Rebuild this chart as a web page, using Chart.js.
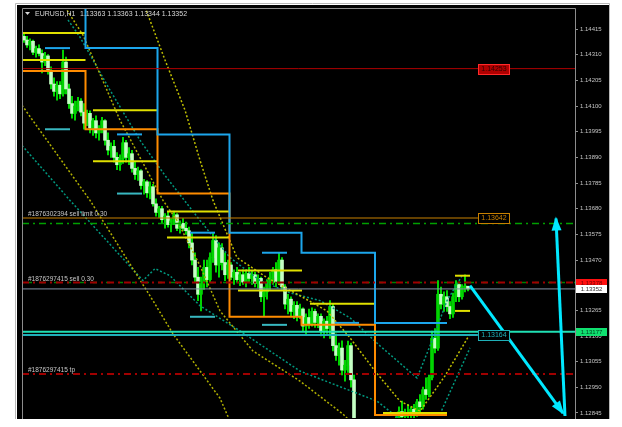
<!DOCTYPE html>
<html>
<head>
<meta charset="utf-8">
<title>EURUSD,H1</title>
<script src="https://cdn.jsdelivr.net/npm/chart.js@4.4.1/dist/chart.umd.min.js"></script>
<style>
  html, body { margin: 0; padding: 0; background: #ffffff; }
  canvas { display: block; }
</style>
</head>
<body>
<canvas id="chart" width="622" height="427"></canvas>
<script>
// EURUSD H1 bars, oldest first (bar index = hour)
const opens = [
  1.14385,1.14370,1.14350,1.14365,1.14320,1.14335,1.14315,1.14280,1.14305,1.14245,
  1.14190,1.14160,1.14185,1.14150,1.14280,1.14170,1.14110,1.14070,1.14100,1.14120,
  1.14075,1.14030,1.14070,1.14010,1.14040,1.13990,1.14005,1.14040,1.13960,1.13920,
  1.13935,1.13890,1.13860,1.13885,1.13950,1.13890,1.13905,1.13845,1.13820,1.13835,
  1.13775,1.13790,1.13745,1.13770,1.13700,1.13665,1.13680,1.13635,1.13650,1.13615,
  1.13630,1.13655,1.13600,1.13620,1.13600,1.13590,1.13540,1.13470,1.13400,1.13330,
  1.13380,1.13440,1.13390,1.13480,1.13550,1.13450,1.13520,1.13460,1.13410,1.13450,
  1.13400,1.13420,1.13390,1.13410,1.13380,1.13415,1.13395,1.13410,1.13375,1.13395,
  1.13320,1.13340,1.13380,1.13400,1.13430,1.13380,1.13470,1.13360,1.13290,1.13310,
  1.13260,1.13285,1.13240,1.13270,1.13200,1.13235,1.13210,1.13260,1.13215,1.13240,
  1.13180,1.13220,1.13190,1.13280,1.13120,1.13080,1.13110,1.13020,1.13040,1.13120,
  1.12980,1.12800,1.12740,1.12760,1.12730,1.12700,1.12740,1.12720,1.12690,1.12710,
  1.12740,1.12770,1.12750,1.12790,1.12780,1.12810,1.12850,1.12830,1.12845,1.12835,
  1.12860,1.12840,1.12890,1.12870,1.12940,1.12920,1.12990,1.13150,1.13110,1.13330,
  1.13290,1.13320,1.13280,1.13250,1.13320,1.13370,1.13320,1.13360,1.13363
];
const highs = [
  1.14400,1.14385,1.14375,1.14370,1.14345,1.14350,1.14330,1.14320,1.14310,1.14260,
  1.14215,1.14200,1.14200,1.14329,1.14300,1.14190,1.14140,1.14120,1.14136,1.14130,
  1.14110,1.14083,1.14080,1.14050,1.14060,1.14020,1.14054,1.14045,1.13990,1.13950,
  1.13960,1.13910,1.13900,1.13972,1.13960,1.13930,1.13919,1.13870,1.13850,1.13840,
  1.13800,1.13795,1.13790,1.13780,1.13720,1.13690,1.13690,1.13660,1.13665,1.13640,
  1.13670,1.13660,1.13630,1.13640,1.13625,1.13605,1.13580,1.13500,1.13440,1.13400,
  1.13470,1.13470,1.13500,1.13582,1.13570,1.13540,1.13537,1.13500,1.13470,1.13460,
  1.13430,1.13440,1.13420,1.13430,1.13430,1.13440,1.13425,1.13420,1.13410,1.13400,
  1.13360,1.13390,1.13420,1.13440,1.13460,1.13500,1.13480,1.13370,1.13330,1.13320,
  1.13300,1.13300,1.13290,1.13275,1.13250,1.13270,1.13275,1.13270,1.13250,1.13250,
  1.13230,1.13240,1.13304,1.13290,1.13168,1.13130,1.13140,1.13060,1.13139,1.13130,
  1.13000,1.12815,1.12790,1.12800,1.12760,1.12750,1.12780,1.12740,1.12730,1.12760,
  1.12790,1.12800,1.12810,1.12815,1.12830,1.12870,1.12893,1.12860,1.12880,1.12870,
  1.12880,1.12900,1.12920,1.12950,1.12988,1.13000,1.13180,1.13190,1.13386,1.13360,
  1.13340,1.13345,1.13300,1.13335,1.13386,1.13380,1.13370,1.13410,1.13363
];
const lows = [
  1.14360,1.14340,1.14330,1.14310,1.14300,1.14305,1.14235,1.14265,1.14230,1.14170,
  1.14140,1.14124,1.14130,1.14140,1.14150,1.14090,1.14050,1.14042,1.14080,1.14060,
  1.14005,1.14020,1.13990,1.13980,1.13970,1.13960,1.13990,1.13940,1.13900,1.13890,
  1.13870,1.13840,1.13837,1.13865,1.13870,1.13860,1.13830,1.13800,1.13796,1.13760,
  1.13740,1.13726,1.13720,1.13690,1.13650,1.13644,1.13620,1.13600,1.13605,1.13585,
  1.13615,1.13590,1.13580,1.13590,1.13575,1.13520,1.13450,1.13380,1.13304,1.13262,
  1.13350,1.13360,1.13380,1.13460,1.13420,1.13400,1.13430,1.13386,1.13395,1.13390,
  1.13370,1.13380,1.13365,1.13370,1.13360,1.13380,1.13370,1.13360,1.13355,1.13300,
  1.13242,1.13310,1.13350,1.13370,1.13360,1.13370,1.13345,1.13270,1.13250,1.13240,
  1.13230,1.13221,1.13230,1.13180,1.13168,1.13190,1.13200,1.13195,1.13193,1.13160,
  1.13152,1.13170,1.13150,1.13098,1.13060,1.13040,1.13000,1.12975,1.13010,1.12950,
  1.12780,1.12720,1.12700,1.12710,1.12680,1.12670,1.12700,1.12660,1.12650,1.12690,
  1.12720,1.12730,1.12740,1.12750,1.12770,1.12790,1.12810,1.12800,1.12820,1.12810,
  1.12825,1.12830,1.12850,1.12860,1.12900,1.12910,1.12980,1.13090,1.13100,1.13270,
  1.13260,1.13260,1.13230,1.13235,1.13300,1.13300,1.13310,1.13340,1.13344
];
const closes = [
  1.14370,1.14350,1.14365,1.14320,1.14335,1.14315,1.14280,1.14305,1.14245,1.14190,
  1.14160,1.14185,1.14150,1.14280,1.14170,1.14110,1.14070,1.14100,1.14120,1.14075,
  1.14030,1.14070,1.14010,1.14040,1.13990,1.14005,1.14040,1.13960,1.13920,1.13935,
  1.13890,1.13860,1.13885,1.13950,1.13890,1.13905,1.13845,1.13820,1.13835,1.13775,
  1.13790,1.13745,1.13770,1.13700,1.13665,1.13680,1.13635,1.13650,1.13615,1.13630,
  1.13655,1.13600,1.13620,1.13600,1.13590,1.13540,1.13470,1.13400,1.13330,1.13380,
  1.13440,1.13390,1.13480,1.13550,1.13450,1.13520,1.13460,1.13410,1.13450,1.13400,
  1.13420,1.13390,1.13410,1.13380,1.13415,1.13395,1.13410,1.13375,1.13395,1.13320,
  1.13340,1.13380,1.13400,1.13430,1.13380,1.13470,1.13360,1.13290,1.13310,1.13260,
  1.13285,1.13240,1.13270,1.13200,1.13235,1.13210,1.13260,1.13215,1.13240,1.13180,
  1.13220,1.13190,1.13280,1.13120,1.13080,1.13110,1.13020,1.13040,1.13120,1.12980,
  1.12800,1.12740,1.12760,1.12730,1.12700,1.12740,1.12720,1.12690,1.12710,1.12740,
  1.12770,1.12750,1.12790,1.12780,1.12810,1.12850,1.12830,1.12845,1.12835,1.12860,
  1.12840,1.12890,1.12870,1.12940,1.12920,1.12990,1.13150,1.13110,1.13330,1.13290,
  1.13320,1.13280,1.13250,1.13320,1.13370,1.13320,1.13360,1.13363,1.13352
];

// price scale labels, top to bottom
const tickLabels = ['1.14415','1.14310','1.14205','1.14100','1.13995','1.13890','1.13785','1.13680',
                    '1.13575','1.13470','1.13365','1.13265','1.13160','1.13055','1.12950','1.12845'];

// daily pivot-style step lines (bar index of day edges, one level per day)
const dayEdges = [-0.67, 20.5, 44.5, 68.5, 92.5, 117, 141];
const blueLevels = [1.14600, 1.14337, 1.13984, 1.13582, 1.13500, 1.13213];
const orangeLevels = [1.14243, 1.14005, 1.13742, 1.13238, 1.13205, 1.12836];

// short projected levels inside each day
const shortStart = [7, 31, 55.33, 79.33, 103.67];
const shortEnd = [15.33, 39.33, 63.67, 87.67, 111.67];
const blueShort = [1.14337, 1.13984, 1.13582, 1.13500, 1.13213];
const tealShort = [1.14005, 1.13742, 1.13238, 1.13205, null];

// previous-day high / low lines
const yStart = [-0.67, 23, 47.67, 71.33, 95.33, 119.67, 143.67];
const yEnd = [20.5, 44.5, 68.5, 92.67, 117, 141, 148.67];
const yHigh = [1.14399, 1.14083, 1.13669, 1.13427, 1.13291, null, 1.13406];
const yLow = [1.14288, 1.13874, 1.13562, 1.13345, null, 1.12844, 1.13262];

// dotted envelope bands
const yellowUpX = [40.33, 47, 53.67, 58.67, 63, 71, 81, 92, 101, 108.67, 117, 125.33, 132, 140.33, 148.67];
const yellowUpY = [1.14505, 1.14288, 1.14083, 1.13878, 1.13714, 1.13480, 1.13398, 1.13324, 1.13262, 1.13152, 1.13016, 1.12893, 1.12852, 1.12996, 1.13168];
const yellowMidX = [13.67, 19.67, 32, 46.33, 51, 58.67, 65.33, 76.33, 92, 106.33, 108.67];
const yellowMidY = [1.14505, 1.14390, 1.14042, 1.13714, 1.13632, 1.13447, 1.13262, 1.13098, 1.12975, 1.12840, 1.12811];
const yellowLowX = [-0.67, 22, 43, 49.67, 65.33, 68.67];
const yellowLowY = [1.14103, 1.13714, 1.13304, 1.13168, 1.12905, 1.12811];
const tealUpX = [14.67, 18.67, 28.67, 38.67, 47, 58.67, 68.67, 78.67, 88.67, 98.67, 108.67, 118.67, 131, 136, 141, 146];
const tealUpY = [1.14452, 1.14382, 1.14165, 1.13960, 1.13816, 1.13632, 1.13480, 1.13386, 1.13336, 1.13304, 1.13234, 1.13119, 1.12988, 1.13139, 1.13304, 1.13406];
const tealLowX = [-0.67, 15.33, 39.67, 43.67, 48.67, 58.67, 72, 92, 117.67, 125.33];
const tealLowY = [1.13939, 1.13714, 1.13386, 1.13435, 1.13406, 1.13283, 1.13180, 1.13016, 1.12893, 1.12819];
const tealRiseX = [138.67, 148.67];
const tealRiseY = [1.12840, 1.13111];

// horizontal levels and trade lines
const alertLevel = 1.14253;
const stopLevel = 1.13620;
const bidPrice = 1.13352;
const cyanLevels = [1.13177, 1.13164];
const orderPrices = [1.13642, 1.13378, 1.13004];
const orderLabels = ['#1876302394 sell limit 0.30', '#1876297415 sell 0.30', '#1876297415 tp'];
const boxPrices = [1.14253, 1.13642, 1.13164];
const boxLabels = ['1.14253', '1.13642', '1.13164'];
const axisBoxPrices = [1.13378, 1.13352, 1.13177];
const axisBoxLabels = ['1.13378', '1.13352', '1.13177'];

// projected path arrows
const arrowDownX = [148.67, 179.67];
const arrowDownY = [1.13365, 1.12844];
const arrowUpX = [180.33, 177.33];
const arrowUpY = [1.12832, 1.13640];

const symbolName = 'EURUSD,H1';
const lastOHLC = [1.13363, 1.13363, 1.13344, 1.13352];

const xMin = -0.67, xMax = 183.67;
const font = '"Liberation Sans", Arial, sans-serif';

function pts(xs, ys) {
  return xs.map((x, k) => ({ x: x, y: ys[k] }));
}
function lineSet(data, color, width, dash, order) {
  return {
    type: 'line', data: data, borderColor: color, borderWidth: width,
    borderDash: dash || [], pointRadius: 0, fill: false, tension: 0, order: order
  };
}
function stepPts(edges, levels) {
  const out = [];
  levels.forEach((lv, k) => {
    out.push({ x: edges[k], y: lv });
    out.push({ x: edges[k + 1], y: lv });
  });
  return out;
}
function segSets(starts, ends, levels, color, width, order) {
  const out = [];
  levels.forEach((lv, k) => {
    if (lv === null) return;
    out.push(lineSet([{ x: starts[k], y: lv }, { x: ends[k], y: lv }], color, width, [], order));
  });
  return out;
}

const idx = opens.map((o, i) => i);
const isBull = i => closes[i] >= opens[i];

const datasets = [
  // arrows on top
  lineSet(pts(arrowDownX, arrowDownY), '#00e8ff', 3, [], 0),
  lineSet(pts(arrowUpX, arrowUpY), '#00e8ff', 3, [], 0),
  // trade / level lines
  lineSet([{ x: xMin, y: alertLevel }, { x: xMax, y: alertLevel }], '#b00000', 1, [], 2),
  lineSet([{ x: xMin, y: orderPrices[0] }, { x: 151.3, y: orderPrices[0] }], '#c88000', 1, [], 2),
  lineSet([{ x: xMin, y: stopLevel }, { x: xMax, y: stopLevel }], '#00a000', 1.5, [7, 4, 2, 4], 2),
  lineSet([{ x: xMin, y: orderPrices[1] }, { x: xMax, y: orderPrices[1] }], '#a00000', 2, [7, 4, 2, 4], 2),
  lineSet([{ x: xMin, y: orderPrices[1] }, { x: xMax, y: orderPrices[1] }], '#008000', 1.5, [0, 6, 4, 3], 3),
  lineSet([{ x: xMin, y: bidPrice }, { x: xMax, y: bidPrice }], '#8494a6', 1, [], 2),
  lineSet([{ x: xMin, y: cyanLevels[0] }, { x: xMax, y: cyanLevels[0] }], '#20e0b4', 2, [], 2),
  lineSet([{ x: xMin, y: cyanLevels[1] }, { x: 151.3, y: cyanLevels[1] }], '#1fb0b8', 2, [], 2),
  lineSet([{ x: xMin, y: orderPrices[2] }, { x: xMax, y: orderPrices[2] }], '#a00000', 2, [7, 4, 2, 4], 2),
  // daily step lines
  lineSet(stepPts(dayEdges, blueLevels), '#1ca6ec', 2, [], 4),
  lineSet(stepPts(dayEdges, orangeLevels), '#ff8c00', 2, [], 4),
  ...segSets(shortStart, shortEnd, blueShort, '#1ca6ec', 2, 4),
  ...segSets(shortStart, shortEnd, tealShort, '#38b8c0', 2, 4),
  ...segSets(yStart, yEnd, yHigh, '#e0e000', 2, 4),
  ...segSets(yStart, yEnd, yLow, '#e0e000', 2, 4),
  // dotted bands
  lineSet(pts(yellowUpX, yellowUpY), '#c0c000', 1.5, [2, 2], 6),
  lineSet(pts(yellowMidX, yellowMidY), '#b0b000', 1.5, [2, 2], 6),
  lineSet(pts(yellowLowX, yellowLowY), '#b0b000', 1.5, [2, 2], 6),
  lineSet(pts(tealUpX, tealUpY), '#00987f', 1.5, [2, 2], 6),
  lineSet(pts(tealLowX, tealLowY), '#00987f', 1.5, [2, 2], 6),
  lineSet(pts(tealRiseX, tealRiseY), '#00987f', 1.5, [2, 2], 6),
  // candles
  {
    type: 'bar', grouped: false, order: 8,
    data: idx.map(i => ({ x: i, y: [opens[i], closes[i]] })),
    backgroundColor: idx.map(i => isBull(i) ? '#00d400' : '#c4ffc4'),
    borderWidth: 0, barThickness: 3, minBarLength: 1
  },
  {
    type: 'bar', grouped: false, order: 9,
    data: idx.map(i => ({ x: i, y: [lows[i], highs[i]] })),
    backgroundColor: '#00ff00', borderWidth: 0, barThickness: 1
  }
];

const mt4Plugin = {
  id: 'mt4',
  beforeDraw(chart) {
    const ctx = chart.ctx;
    ctx.save();
    ctx.fillStyle = '#ffffff';
    ctx.fillRect(0, 0, chart.width, chart.height);
    ctx.fillStyle = '#000000';
    ctx.fillRect(17, 5, 592, 414);
    ctx.strokeStyle = '#b8b8b8';
    ctx.lineWidth = 1;
    ctx.beginPath();
    ctx.moveTo(15.5, 419); ctx.lineTo(15.5, 3.5); ctx.lineTo(609.5, 3.5); ctx.lineTo(609.5, 419);
    ctx.stroke();
    ctx.restore();
  },
  afterDatasetsDraw(chart) {
    const ctx = chart.ctx, xs = chart.scales.x, ys = chart.scales.y, area = chart.chartArea;
    ctx.save();
    // arrow heads
    [[arrowDownX, arrowDownY], [arrowUpX, arrowUpY]].forEach(([ax, ay]) => {
      const n = ax.length;
      const x1 = xs.getPixelForValue(ax[n - 2]), y1 = ys.getPixelForValue(ay[n - 2]);
      const x2 = xs.getPixelForValue(ax[n - 1]), y2 = ys.getPixelForValue(ay[n - 1]);
      const a = Math.atan2(y2 - y1, x2 - x1);
      const L = 12, W = 5;
      ctx.fillStyle = '#00e8ff';
      ctx.beginPath();
      ctx.moveTo(x2 + 2 * Math.cos(a), y2 + 2 * Math.sin(a));
      ctx.lineTo(x2 - L * Math.cos(a) + W * Math.sin(a), y2 - L * Math.sin(a) - W * Math.cos(a));
      ctx.lineTo(x2 - L * Math.cos(a) - W * Math.sin(a), y2 - L * Math.sin(a) + W * Math.cos(a));
      ctx.closePath();
      ctx.fill();
    });
    // order comments
    ctx.font = '6.5px ' + font;
    ctx.fillStyle = '#c8c8c8';
    ctx.textAlign = 'left';
    ctx.textBaseline = 'bottom';
    orderLabels.forEach((t, k) => {
      ctx.fillText(t, area.left + 6, Math.round(ys.getPixelForValue(orderPrices[k])) - 1);
    });
    // price boxes in the chart
    const boxStyles = [
      { fill: '#b00000', stroke: '#ff2a2a', text: '#300000' },
      { fill: '#000000', stroke: '#c88000', text: '#c88000' },
      { fill: '#000000', stroke: '#1fb0b8', text: '#1fb0b8' }
    ];
    const cx = xs.getPixelForValue(156.67);
    ctx.font = '7px ' + font;
    ctx.textAlign = 'center';
    ctx.textBaseline = 'middle';
    boxPrices.forEach((p, k) => {
      const cy = Math.round(ys.getPixelForValue(p));
      const st = boxStyles[k];
      ctx.fillStyle = st.fill;
      ctx.fillRect(cx - 16, cy - 5, 32, 11);
      ctx.strokeStyle = st.stroke;
      ctx.lineWidth = 1;
      ctx.strokeRect(cx - 15.5, cy - 4.5, 31, 10);
      ctx.fillStyle = st.text;
      ctx.fillText(boxLabels[k], cx, cy + 0.5);
    });
    ctx.restore();
  },
  afterDraw(chart) {
    const ctx = chart.ctx, ys = chart.scales.y, area = chart.chartArea;
    ctx.save();
    // chart frame
    ctx.strokeStyle = '#8c8c8c';
    ctx.lineWidth = 1;
    ctx.beginPath();
    ctx.moveTo(area.left + 0.5, 419); ctx.lineTo(area.left + 0.5, area.top + 0.5);
    ctx.lineTo(area.right + 0.5, area.top + 0.5); ctx.lineTo(area.right + 0.5, 419);
    ctx.stroke();
    // price axis boxes
    const axisStyles = [
      { fill: '#ff1010', text: '#700000' },
      { fill: '#ffffff', text: '#303030' },
      { fill: '#10e070', text: '#004020' }
    ];
    ctx.font = '6px ' + font;
    ctx.textAlign = 'center';
    ctx.textBaseline = 'middle';
    axisBoxPrices.forEach((p, k) => {
      const cy = Math.round(ys.getPixelForValue(p));
      ctx.fillStyle = axisStyles[k].fill;
      ctx.fillRect(area.right + 1, cy - 4, 31, 8);
      ctx.fillStyle = axisStyles[k].text;
      ctx.fillText(axisBoxLabels[k], area.right + 16.5, cy + 0.5);
    });
    // header
    ctx.fillStyle = '#d8d8d8';
    ctx.beginPath();
    ctx.moveTo(25, 12); ctx.lineTo(30, 12); ctx.lineTo(27.5, 15);
    ctx.closePath();
    ctx.fill();
    ctx.font = '7px ' + font;
    ctx.textAlign = 'left';
    ctx.textBaseline = 'middle';
    ctx.fillText(symbolName, 35, 14);
    ctx.fillText(lastOHLC.map(v => v.toFixed(5)).join(' '), 80, 14);
    ctx.restore();
  }
};

new Chart(document.getElementById('chart'), {
  type: 'bar',
  data: { datasets: datasets },
  options: {
    responsive: false,
    animation: false,
    events: [],
    layout: { padding: { left: 22, top: 8, right: 14, bottom: 9 } },
    plugins: { legend: { display: false }, tooltip: { enabled: false } },
    scales: {
      x: {
        type: 'linear', min: xMin, max: xMax, offset: false, display: false,
        grid: { offset: false }
      },
      y: {
        type: 'linear', position: 'right', min: 1.12824, max: 1.14501,
        afterBuildTicks: s => { s.ticks = tickLabels.map(t => ({ value: parseFloat(t) })); },
        afterFit: s => { s.width = 33; },
        border: { display: false },
        grid: { drawOnChartArea: false, tickLength: 3, color: '#909090' },
        ticks: {
          autoSkip: false, padding: 2, color: '#c4c4c4',
          font: { family: 'Liberation Sans', size: 6 },
          callback: (v, i) => tickLabels[i]
        }
      }
    }
  },
  plugins: [mt4Plugin]
});
</script>
</body>
</html>
